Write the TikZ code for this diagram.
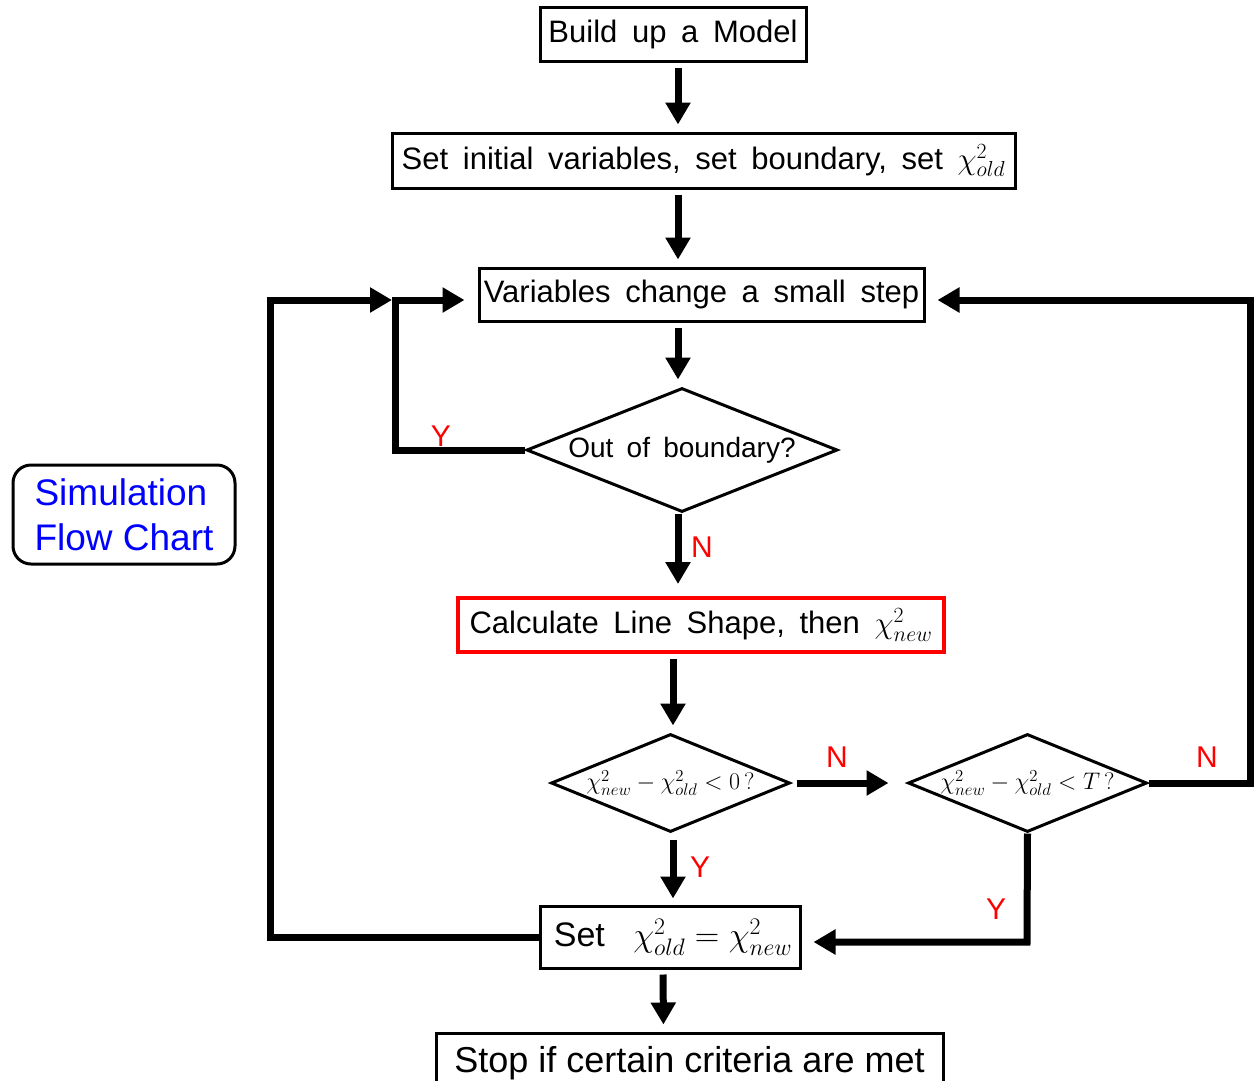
\documentclass[tikz,border=0pt]{standalone}
\usepackage{fix-cm}
\usepackage{fontspec}
\setmainfont{Liberation Sans}[WordSpace=1.7]
\newfontfamily\plainsans{Liberation Sans}
\usepackage{tikz}
\usetikzlibrary{arrows.meta, positioning, shapes.geometric}
\definecolor{flowred}{HTML}{FF0000}
\definecolor{flowblue}{HTML}{0000FF}
\newcommand{\fsz}[1]{\fontsize{#1}{#1}\selectfont}

\begin{document}
\begin{tikzpicture}[
  x=1pt, y=-1pt,
  box/.style={rectangle, draw=black, line width=3pt, inner sep=0pt,
              font={\fsz{31}}},
  redbox/.style={box, draw=flowred, line width=4pt},
  decision/.style={diamond, draw=black, line width=3pt, inner sep=0pt,
                   font={\fsz{24}}},
  flow/.style={-{Triangle[length=22pt, width=24pt]}, line width=7pt,
               shorten <=5pt, shorten >=7pt},
  lbl/.style={font={\plainsans\fsz{30}}, text=flowred, inner sep=0pt}
]
  \useasboundingbox (0,0) rectangle (1254,1080);

  \node[box, minimum width=266pt, minimum height=54pt] (model) at (673,34) {Build up a Model};
  \node[box, minimum width=623pt, minimum height=55pt] (init) at (703.5,160.5)
    {Set initial variables, set boundary, set $\chi^{2}_{old}$};
  \node[box, minimum width=445pt, minimum height=53pt] (vary) at (701.5,294.5)
    {Variables change a small step};
  \node[decision, aspect=2.5, minimum width=311pt, minimum height=124pt, font={\fsz{28}}]
    (bound) at (682,450) {Out of boundary?};
  \node[redbox, minimum width=486pt, minimum height=54pt] (calc) at (701,625)
    {Calculate Line Shape, then $\chi^{2}_{new}$};
  \node[decision, aspect=2.44, minimum width=239pt, minimum height=98pt]
    (dzero) at (670.5,783) {$\chi^{2}_{new}-\chi^{2}_{old}<0\,?$};
  \node[decision, aspect=2.44, minimum width=239pt, minimum height=98pt]
    (dtemp) at (1027.5,783) {$\chi^{2}_{new}-\chi^{2}_{old}<T\,?$};
  \node[box, minimum width=260pt, minimum height=62pt, font={\plainsans\fsz{34}}] (keep) at (670,937)
    {\hspace*{6pt}Set\;\; $\chi^{2}_{old}=\chi^{2}_{new}$};
  \node[box, minimum width=507pt, minimum height=60pt, font={\plainsans\fsz{36}}] (stop) at (689.5,1063)
    {\raisebox{6pt}{Stop if certain criteria are met}};

  \node[draw=black, line width=3pt, rounded corners=18pt, minimum width=222pt,
        minimum height=99pt, align=left, text=flowblue,
        font={\plainsans\fontsize{37}{45}\selectfont}] (title) at (124,514.5)
    {Simulation\\Flow Chart};

  % corner points of the loops
  \coordinate (ax) at (678,0);
  \coordinate (bx) at (673,0);
  \coordinate (lin) at (395,300);
  \coordinate (lout) at (270,300);
  \coordinate (rout) at (1250,300);
  \coordinate (ry) at (1027,942);

  \draw[flow] (model.south -| ax) -- (init.north -| ax);
  \draw[flow] (init.south -| ax) -- (vary.north -| ax);
  \draw[flow] (vary.south -| ax) -- (bound.north -| ax);
  \draw[flow, shorten <=0pt, shorten >=12pt] (bound.south -| ax) -- (calc.north -| ax);
  \draw[flow] (calc.south -| bx) -- (dzero.north -| bx);
  \draw[flow, shorten <=6pt, shorten >=6pt] (dzero.south -| bx) -- (keep.north -| bx);
  \draw[flow] ([xshift=-7pt]keep.south) -- ([xshift=-26pt]stop.north);
  \draw[flow, shorten >=18pt] (dzero.east) -- (dtemp.west);

  \draw[flow, shorten <=0pt, shorten >=13pt] (bound.west) -| (lin) -- (vary.west |- lin);
  \draw[flow, shorten <=0pt, shorten >=3pt] (keep.west) -| (lout) -- (lin);
  \draw[flow, shorten <=0pt, shorten >=12pt] (dtemp.east) -| (rout) -- (vary.east |- rout);
  \draw[flow, shorten <=0pt, shorten >=12pt] (dtemp.south) -- (ry) -- (keep.east |- ry);

  \node[lbl] (ybound) at (441,436) {Y};
  \node[lbl] (nbound) at (702,547) {N};
  \node[lbl] (nzero) at (837,757) {N};
  \node[lbl] (ntemp) at (1207,757) {N};
  \node[lbl] (yzero) at (700,867) {Y};
  \node[lbl] (ytemp) at (996,909) {Y};
\end{tikzpicture}
\end{document}
